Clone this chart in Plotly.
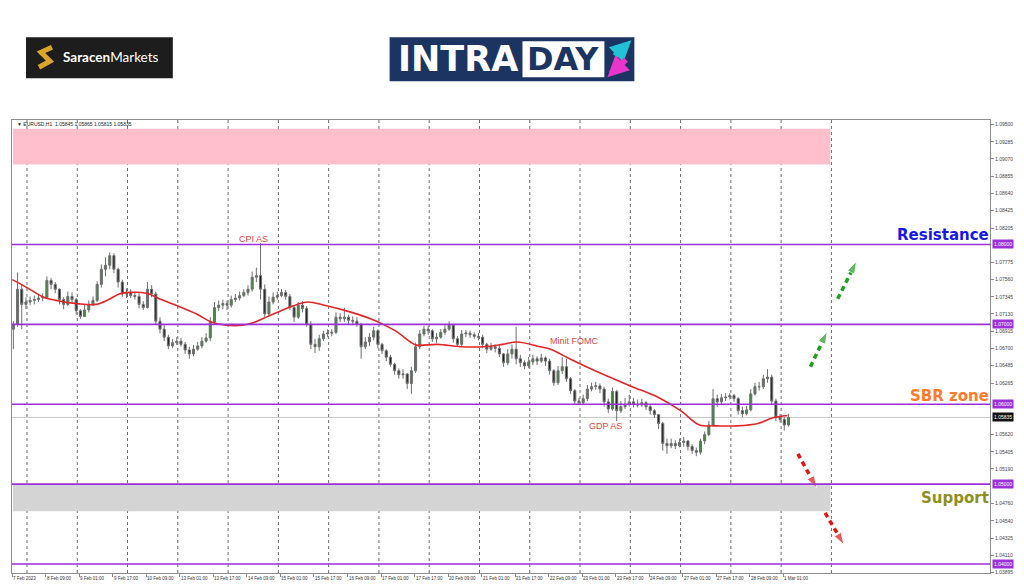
import plotly.graph_objects as go

# EURUSD H1 chart, drawn as 2-hour candles; x is hours counted from 7 Feb 17:00
first_open = 1.0694
close = [1.0700, 1.0744, 1.0725, 1.0728, 1.0730, 1.0731, 1.0733, 1.0734, 1.0755, 1.0750,
         1.0744, 1.0731, 1.0725, 1.0735, 1.0731, 1.0717, 1.0710, 1.0718, 1.0725, 1.0730,
         1.0750, 1.0769, 1.0774, 1.0786, 1.0769, 1.0753, 1.0738, 1.0740, 1.0736, 1.0735,
         1.0725, 1.0721, 1.0744, 1.0738, 1.0704, 1.0694, 1.0684, 1.0673, 1.0677, 1.0679,
         1.0675, 1.0668, 1.0663, 1.0669, 1.0673, 1.0679, 1.0683, 1.0703, 1.0721, 1.0724,
         1.0726, 1.0724, 1.0731, 1.0733, 1.0736, 1.0740, 1.0744, 1.0759, 1.0761, 1.0744,
         1.0713, 1.0728, 1.0734, 1.0736, 1.0740, 1.0735, 1.0721, 1.0709, 1.0724, 1.0720,
         1.0700, 1.0675, 1.0672, 1.0682, 1.0688, 1.0689, 1.0690, 1.0709, 1.0707, 1.0709,
         1.0705, 1.0704, 1.0700, 1.0672, 1.0678, 1.0684, 1.0692, 1.0675, 1.0667, 1.0659,
         1.0650, 1.0642, 1.0637, 1.0638, 1.0626, 1.0642, 1.0672, 1.0688, 1.0694, 1.0692,
         1.0682, 1.0684, 1.0690, 1.0694, 1.0699, 1.0682, 1.0675, 1.0688, 1.0689, 1.0687,
         1.0685, 1.0684, 1.0675, 1.0669, 1.0672, 1.0670, 1.0663, 1.0652, 1.0663, 1.0669,
         1.0657, 1.0652, 1.0648, 1.0653, 1.0657, 1.0654, 1.0658, 1.0654, 1.0642, 1.0627,
         1.0642, 1.0647, 1.0632, 1.0617, 1.0604, 1.0602, 1.0607, 1.0619, 1.0622, 1.0623,
         1.0619, 1.0603, 1.0594, 1.0616, 1.0592, 1.0597, 1.0600, 1.0603, 1.0600, 1.0599,
         1.0602, 1.0597, 1.0592, 1.0587, 1.0576, 1.0551, 1.0548, 1.0551, 1.0548, 1.0552,
         1.0554, 1.0547, 1.0542, 1.0540, 1.0554, 1.0562, 1.0574, 1.0607, 1.0603, 1.0608,
         1.0609, 1.0611, 1.0607, 1.0592, 1.0588, 1.0593, 1.0613, 1.0622, 1.0622, 1.0632,
         1.0634, 1.0604, 1.0584, 1.0581, 1.0574, 1.05835]
high = [1.0704, 1.0765, 1.0750, 1.0734, 1.0735, 1.0736, 1.0738, 1.0739, 1.0760, 1.0758,
        1.0753, 1.0745, 1.0734, 1.0741, 1.0740, 1.0733, 1.0719, 1.0725, 1.0730, 1.0735,
        1.0754, 1.0775, 1.0784, 1.0790, 1.0789, 1.0771, 1.0756, 1.0745, 1.0744, 1.0741,
        1.0739, 1.0729, 1.0753, 1.0749, 1.0741, 1.0709, 1.0699, 1.0687, 1.0682, 1.0684,
        1.0683, 1.0678, 1.0672, 1.0674, 1.0678, 1.0684, 1.0689, 1.0709, 1.0728, 1.0730,
        1.0731, 1.0730, 1.0736, 1.0738, 1.0741, 1.0744, 1.0749, 1.0766, 1.0771, 1.0802,
        1.0750, 1.0735, 1.0740, 1.0741, 1.0744, 1.0743, 1.0738, 1.0724, 1.0728, 1.0729,
        1.0723, 1.0704, 1.0682, 1.0687, 1.0692, 1.0694, 1.0694, 1.0715, 1.0714, 1.0721,
        1.0712, 1.0710, 1.0709, 1.0702, 1.0684, 1.0689, 1.0697, 1.0694, 1.0677, 1.0669,
        1.0662, 1.0652, 1.0645, 1.0644, 1.0639, 1.0647, 1.0677, 1.0693, 1.0698, 1.0698,
        1.0694, 1.0689, 1.0694, 1.0699, 1.0704, 1.0700, 1.0685, 1.0693, 1.0693, 1.0692,
        1.0690, 1.0689, 1.0687, 1.0677, 1.0677, 1.0675, 1.0674, 1.0664, 1.0669, 1.0675,
        1.0697, 1.0662, 1.0655, 1.0659, 1.0662, 1.0660, 1.0663, 1.0660, 1.0657, 1.0644,
        1.0648, 1.0659, 1.0657, 1.0634, 1.0619, 1.0608, 1.0612, 1.0624, 1.0627, 1.0628,
        1.0626, 1.0622, 1.0607, 1.0621, 1.0618, 1.0604, 1.0608, 1.0612, 1.0608, 1.0606,
        1.0607, 1.0604, 1.0599, 1.0594, 1.0588, 1.0578, 1.0557, 1.0557, 1.0555, 1.0557,
        1.0559, 1.0555, 1.0550, 1.0546, 1.0557, 1.0566, 1.0579, 1.0619, 1.0612, 1.0613,
        1.0614, 1.0614, 1.0613, 1.0609, 1.0597, 1.0598, 1.0619, 1.0627, 1.0628, 1.0637,
        1.0644, 1.0637, 1.0607, 1.0588, 1.0584, 1.0588]
low = [1.0669, 1.0697, 1.0694, 1.0719, 1.0724, 1.0725, 1.0728, 1.0729, 1.0733, 1.0744,
       1.0739, 1.0725, 1.0719, 1.0723, 1.0726, 1.0712, 1.0707, 1.0709, 1.0715, 1.0723,
       1.0728, 1.0746, 1.0760, 1.0769, 1.0764, 1.0746, 1.0734, 1.0733, 1.0733, 1.0731,
       1.0720, 1.0718, 1.0720, 1.0734, 1.0699, 1.0689, 1.0679, 1.0669, 1.0670, 1.0674,
       1.0672, 1.0663, 1.0657, 1.0660, 1.0667, 1.0670, 1.0677, 1.0679, 1.0700, 1.0717,
       1.0719, 1.0718, 1.0721, 1.0728, 1.0730, 1.0734, 1.0736, 1.0741, 1.0753, 1.0731,
       1.0709, 1.0710, 1.0725, 1.0731, 1.0734, 1.0731, 1.0718, 1.0703, 1.0707, 1.0715,
       1.0697, 1.0669, 1.0664, 1.0667, 1.0679, 1.0684, 1.0685, 1.0688, 1.0703, 1.0703,
       1.0700, 1.0699, 1.0697, 1.0657, 1.0669, 1.0673, 1.0680, 1.0670, 1.0663, 1.0654,
       1.0647, 1.0637, 1.0632, 1.0632, 1.0619, 1.0613, 1.0639, 1.0669, 1.0685, 1.0687,
       1.0678, 1.0677, 1.0682, 1.0687, 1.0692, 1.0677, 1.0672, 1.0673, 1.0684, 1.0683,
       1.0682, 1.0680, 1.0670, 1.0664, 1.0667, 1.0665, 1.0659, 1.0647, 1.0649, 1.0657,
       1.0650, 1.0647, 1.0644, 1.0645, 1.0649, 1.0649, 1.0652, 1.0648, 1.0637, 1.0623,
       1.0624, 1.0638, 1.0628, 1.0613, 1.0600, 1.0599, 1.0599, 1.0604, 1.0616, 1.0618,
       1.0614, 1.0597, 1.0589, 1.0592, 1.0579, 1.0589, 1.0594, 1.0597, 1.0596, 1.0596,
       1.0597, 1.0593, 1.0587, 1.0583, 1.0569, 1.0542, 1.0538, 1.0545, 1.0544, 1.0546,
       1.0547, 1.0542, 1.0538, 1.0535, 1.0537, 1.0550, 1.0560, 1.0572, 1.0597, 1.0599,
       1.0604, 1.0606, 1.0603, 1.0587, 1.0584, 1.0586, 1.0591, 1.0611, 1.0617, 1.0619,
       1.0627, 1.0599, 1.0579, 1.0577, 1.0567, 1.0572]

# red moving average
ma_hour = [0, 7, 15, 23, 31, 40, 46, 51, 56, 64, 71, 79, 88, 95, 102, 110, 116, 122,
           130, 136, 141, 149, 162, 171, 177, 184, 190, 193, 203, 214, 225, 234, 241,
           252, 257, 266, 279, 295, 308, 319, 328, 335, 346, 356, 363, 370]
ma_value = [1.0756, 1.0746, 1.0734, 1.0729, 1.0726, 1.0725, 1.0731, 1.0738, 1.0740, 1.0739,
            1.0731, 1.0723, 1.0713, 1.0703, 1.0699, 1.0699, 1.0703, 1.0710, 1.0719, 1.0725,
            1.0728, 1.0724, 1.0715, 1.0707, 1.0700, 1.0690, 1.0678, 1.0674, 1.0675, 1.0672,
            1.0672, 1.0675, 1.0678, 1.0672, 1.0669, 1.0657, 1.0641, 1.0623, 1.0609, 1.0592,
            1.0574, 1.0573, 1.0573, 1.0576, 1.0583, 1.0586]

date_labels = ["7 Feb 2023", "8 Feb 09:00", "9 Feb 01:00", "9 Feb 17:00", "10 Feb 09:00",
               "13 Feb 01:00", "13 Feb 17:00", "14 Feb 09:00", "15 Feb 01:00", "15 Feb 17:00",
               "16 Feb 09:00", "17 Feb 01:00", "17 Feb 17:00", "20 Feb 09:00", "21 Feb 01:00",
               "21 Feb 17:00", "22 Feb 09:00", "23 Feb 01:00", "23 Feb 17:00", "24 Feb 09:00",
               "27 Feb 01:00", "27 Feb 17:00", "28 Feb 09:00", "1 Mar 01:00"]
date_hours = [16 * i for i in range(len(date_labels))]

price_ticks = [1.09500, 1.09285, 1.09070, 1.08855, 1.08640, 1.08425, 1.08205, 1.07775,
               1.07560, 1.07345, 1.07130, 1.06915, 1.06700, 1.06485, 1.06265, 1.05620,
               1.05405, 1.05190, 1.04760, 1.04540, 1.04325, 1.04110, 1.03895]
levels = [1.08, 1.07, 1.06, 1.05, 1.04]
last_price = 1.05835

event_text = ["CPI AS", "Minit FOMC", "GDP AS"]
event_hour = [115, 268, 283]
event_price = [1.0807, 1.0679, 1.0573]

arrow_hours = [[381, 389], [394, 403], [375, 384], [388, 397]]
arrow_prices = [[1.0647, 1.0691], [1.0732, 1.0779], [1.0538, 1.0495], [1.0464, 1.0424]]
arrow_colors = ["#1f9e1f", "#1f9e1f", "#e41414", "#e41414"]

zone_end = 390.5
upper_zone = [1.0900, 1.0945]
support_zone = [1.0466, 1.0500]

slot_x = [2 * i + 0.5 for i in range(len(close))]
opens = [first_open] + close[:-1]

fig = go.Figure()
fig.add_trace(go.Candlestick(
    x=slot_x, open=opens, high=high, low=low, close=close,
    increasing=dict(fillcolor="#3d8b3d", line=dict(color="#6f6f6f", width=1)),
    decreasing=dict(fillcolor="#1e1e1e", line=dict(color="#6f6f6f", width=1)),
    whiskerwidth=0, showlegend=False, hoverinfo="skip"))
fig.add_trace(go.Scatter(x=ma_hour, y=ma_value, mode="lines",
                         line=dict(color="#e32626", width=1.6, shape="spline"),
                         showlegend=False, hoverinfo="skip"))
for hx, py, col in zip(arrow_hours, arrow_prices, arrow_colors):
    fig.add_trace(go.Scatter(x=hx, y=py, mode="lines+markers",
                             line=dict(color=col, width=3.5, dash="5px,4px"),
                             marker=dict(symbol="arrow", size=[0, 13], angleref="previous", color=col),
                             showlegend=False, hoverinfo="skip"))

shapes = []
shapes.append(dict(type="rect", xref="x", yref="y", x0=0.3, x1=zone_end, y0=upper_zone[0], y1=upper_zone[1],
                   fillcolor="#ffc0cb", line=dict(width=0), layer="below"))
shapes.append(dict(type="rect", xref="x", yref="y", x0=0.3, x1=zone_end, y0=support_zone[0], y1=support_zone[1],
                   fillcolor="#d4d4d4", line=dict(width=0), layer="below"))
for d in range(7, 392, 24):
    shapes.append(dict(type="line", xref="x", yref="paper", x0=d, x1=d, y0=0, y1=1,
                       line=dict(color="#6a6a6a", width=1, dash="dot"), layer="below"))
shapes.append(dict(type="line", xref="paper", yref="y", x0=0, x1=1, y0=last_price, y1=last_price,
                   line=dict(color="#c8c8c8", width=1), layer="below"))
for lv in levels:
    shapes.append(dict(type="line", xref="paper", yref="y", x0=0, x1=1, y0=lv, y1=lv,
                       line=dict(color="#9b30d9", width=1.6)))


def px_x(p):
    return (p - 11) / 979


def px_y(p):
    return (575 - p) / 455


# logos
shapes.append(dict(type="rect", xref="paper", yref="paper", x0=px_x(25), x1=px_x(172), y0=px_y(78), y1=px_y(37),
                   fillcolor="#1d1d1d", line=dict(width=0)))
shapes.append(dict(type="path", xref="paper", yref="paper",
                   path="M {},{} L {},{} L {},{} L {},{}".format(px_x(51), px_y(47), px_x(40), px_y(52),
                                                                 px_x(49), px_y(61), px_x(38), px_y(67)),
                   line=dict(color="#dba52a", width=5)))
shapes.append(dict(type="rect", xref="paper", yref="paper", x0=px_x(389), x1=px_x(634), y0=px_y(81), y1=px_y(37),
                   fillcolor="#1b3461", line=dict(width=0)))
shapes.append(dict(type="rect", xref="paper", yref="paper", x0=px_x(522), x1=px_x(604), y0=px_y(77), y1=px_y(41),
                   fillcolor="white", line=dict(width=0)))

ann = []
ann.append(dict(xref="paper", yref="paper", x=px_x(60), y=px_y(57), xanchor="left", yanchor="middle",
                text="<b>Saracen</b>Markets", showarrow=False,
                font=dict(family="Lato", size=13.5, color="white")))
ann.append(dict(xref="paper", yref="paper", x=px_x(395), y=px_y(59), xanchor="left", yanchor="middle",
                text="<b>INTRA</b>", showarrow=False,
                font=dict(family="DejaVu Sans", size=35, color="white")))
ann.append(dict(xref="paper", yref="paper", x=px_x(563), y=px_y(59), xanchor="center", yanchor="middle",
                text="<b>DAY</b>", showarrow=False,
                font=dict(family="DejaVu Sans", size=32, color="#1b3461")))
ann.append(dict(xref="paper", yref="paper", x=px_x(631), y=px_y(40), ax=-18, ay=17, text="",
                showarrow=True, arrowhead=2, arrowsize=0.7, arrowwidth=6, arrowcolor="#22c1d6"))
ann.append(dict(xref="paper", yref="paper", x=px_x(607), y=px_y(77), ax=20, ay=-19, text="",
                showarrow=True, arrowhead=2, arrowsize=0.7, arrowwidth=6, arrowcolor="#e935c9"))

ann.append(dict(xref="paper", yref="paper", x=px_x(14), y=px_y(124), xanchor="left", yanchor="middle",
                text="\u25bc EURUSD,H1  1.05845 1.05865 1.05815 1.05835", showarrow=False,
                font=dict(family="Liberation Sans", size=5, color="#222")))

for t, hx in zip(date_labels, date_hours):
    ann.append(dict(xref="x", yref="paper", x=hx, y=0, xanchor="left", yanchor="top", yshift=-1, xshift=-1,
                    text=t, showarrow=False, font=dict(family="Liberation Sans", size=4.5, color="#333")))

for lv in levels:
    ann.append(dict(xref="paper", yref="y", x=1, y=lv, xanchor="left", xshift=2, text=f"{lv:.5f}",
                    showarrow=False, bgcolor="#9b30d9", borderpad=1,
                    font=dict(family="Liberation Sans", size=5, color="white")))
ann.append(dict(xref="paper", yref="y", x=1, y=last_price, xanchor="left", xshift=2, text=f"{last_price:.5f}",
                showarrow=False, bgcolor="#111111", borderpad=1,
                font=dict(family="Liberation Sans", size=5, color="white")))

for t, hx, py in zip(event_text, event_hour, event_price):
    ann.append(dict(xref="x", yref="y", x=hx, y=py, text=t, showarrow=False,
                    font=dict(family="Liberation Sans", size=9, color="#e04848")))

ann.append(dict(xref="paper", yref="y", x=1, y=1.0812, xanchor="right", xshift=1, text="<b>Resistance</b>",
                showarrow=False, font=dict(family="DejaVu Sans", size=15, color="#1717e8")))
ann.append(dict(xref="paper", yref="y", x=1, y=1.0610, xanchor="right", xshift=1, text="<b>SBR zone</b>",
                showarrow=False, font=dict(family="DejaVu Sans", size=15, color="#ff7a2a")))
ann.append(dict(xref="paper", yref="y", x=1, y=1.0483, xanchor="right", xshift=1, text="<b>Support</b>",
                showarrow=False, font=dict(family="DejaVu Sans", size=15, color="#8f8f1e")))

fig.update_layout(
    width=1024, height=587,
    margin=dict(l=11, r=34, t=120, b=12),
    paper_bgcolor="white", plot_bgcolor="white",
    shapes=shapes, annotations=ann,
    xaxis=dict(range=[-0.15, 466.7], rangeslider=dict(visible=False), showgrid=False, zeroline=False,
               showline=True, mirror=True, linecolor="#8c8c8c", tickvals=date_hours, ticks="outside",
               ticklen=3, tickcolor="#8c8c8c", showticklabels=False),
    yaxis=dict(side="right", range=[1.03888, 1.09558], tickvals=price_ticks,
               ticktext=[f"{v:.5f}" for v in price_ticks], ticks="outside", ticklen=3,
               tickcolor="#8c8c8c", tickfont=dict(family="Liberation Sans", size=5, color="#444"),
               showgrid=False, zeroline=False, showline=True, mirror=True, linecolor="#8c8c8c"),
)

# drop the browser's default page margin so the figure sits at the window's corner
fig.write_html("out.html", config={"displayModeBar": False},
               post_script="document.body.style.margin='0';")
